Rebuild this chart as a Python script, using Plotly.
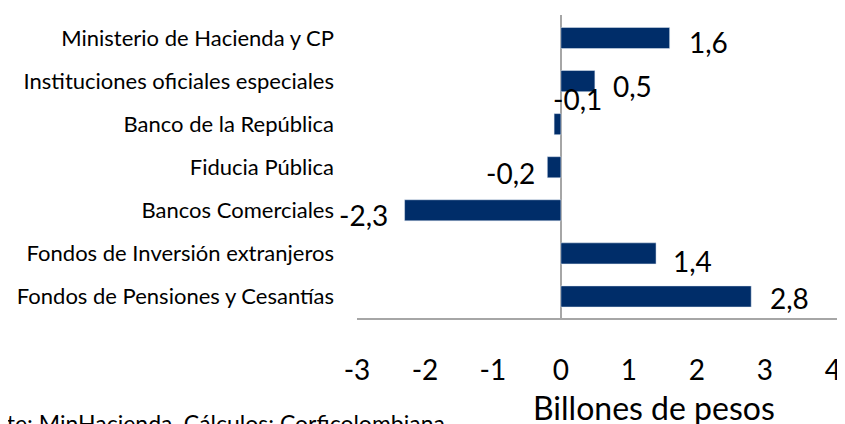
import plotly.graph_objects as go

categories = [
    "Ministerio de Hacienda y CP",
    "Instituciones oficiales especiales",
    "Banco de la República",
    "Fiducia Pública",
    "Bancos Comerciales",
    "Fondos de Inversión extranjeros",
    "Fondos de Pensiones y Cesantías",
]
values = [1.6, 0.5, -0.1, -0.2, -2.3, 1.4, 2.8]
tick_vals = [-3, -2, -1, 0, 1, 2, 3, 4]
x_title = "Billones de pesos"
source = "Fuente: MinHacienda. Cálculos: Corficolombiana"

# label nudges (px), Excel labels were moved by hand
label_shift = {
    "Ministerio de Hacienda y CP": (17, -4),
    "Instituciones oficiales especiales": (16, -5),
    "Banco de la República": (-3, 25),
    "Fiducia Pública": (-10, -6),
    "Bancos Comerciales": (-15, -5),
    "Fondos de Inversión extranjeros": (15, -8),
    "Fondos de Pensiones y Cesantías": (17, -2),
}

num_font = dict(family="Lato", size=28, color="black")

fig = go.Figure(go.Bar(
    x=values, y=categories, orientation="h",
    marker_color="#002d69", width=0.49,
))

for cat, v in zip(categories, values):
    dx, dy = label_shift[cat]
    if cat == "Banco de la República":
        anchor = "left"
    else:
        anchor = "left" if v > 0 else "right"
    fig.add_annotation(
        x=v, y=cat, text=f"{v:.1f}".replace(".", ","),
        showarrow=False, xanchor=anchor, xshift=dx, yshift=dy,
        font=num_font,
    )

fig.add_annotation(
    x=0.609, xref="paper", y=-0.297, yref="paper", text=x_title,
    showarrow=False, yanchor="middle",
    font=dict(family="Lato", size=32, color="black"),
)
fig.add_annotation(
    x=0.184, xref="paper", y=-0.295, yref="paper", text=source,
    showarrow=False, xanchor="right", yanchor="top",
    font=dict(family="Lato", size=23, color="black"),
)

# page body adds 8px, so the figure is 8px smaller than the window
fig.update_layout(
    width=837, height=416,
    margin=dict(l=349, r=0, t=7, b=106),
    plot_bgcolor="white", paper_bgcolor="white",
    showlegend=False,
)
fig.update_xaxes(
    range=[-3, 4.18], tickvals=tick_vals, ticktext=[str(t) for t in tick_vals],
    showgrid=False, zeroline=True, zerolinecolor="#a6a6a6", zerolinewidth=2,
    showline=True, linecolor="#a6a6a6", linewidth=2, automargin=False,
    tickfont=num_font, ticks="", ticklabelstandoff=26,
)
fig.update_yaxes(
    autorange="reversed", showgrid=False, showline=False, ticks="",
    automargin=False,
    tickfont=dict(family="Lato", size=22, color="black"), ticklabelstandoff=22,
)

fig.write_html("out.html")
